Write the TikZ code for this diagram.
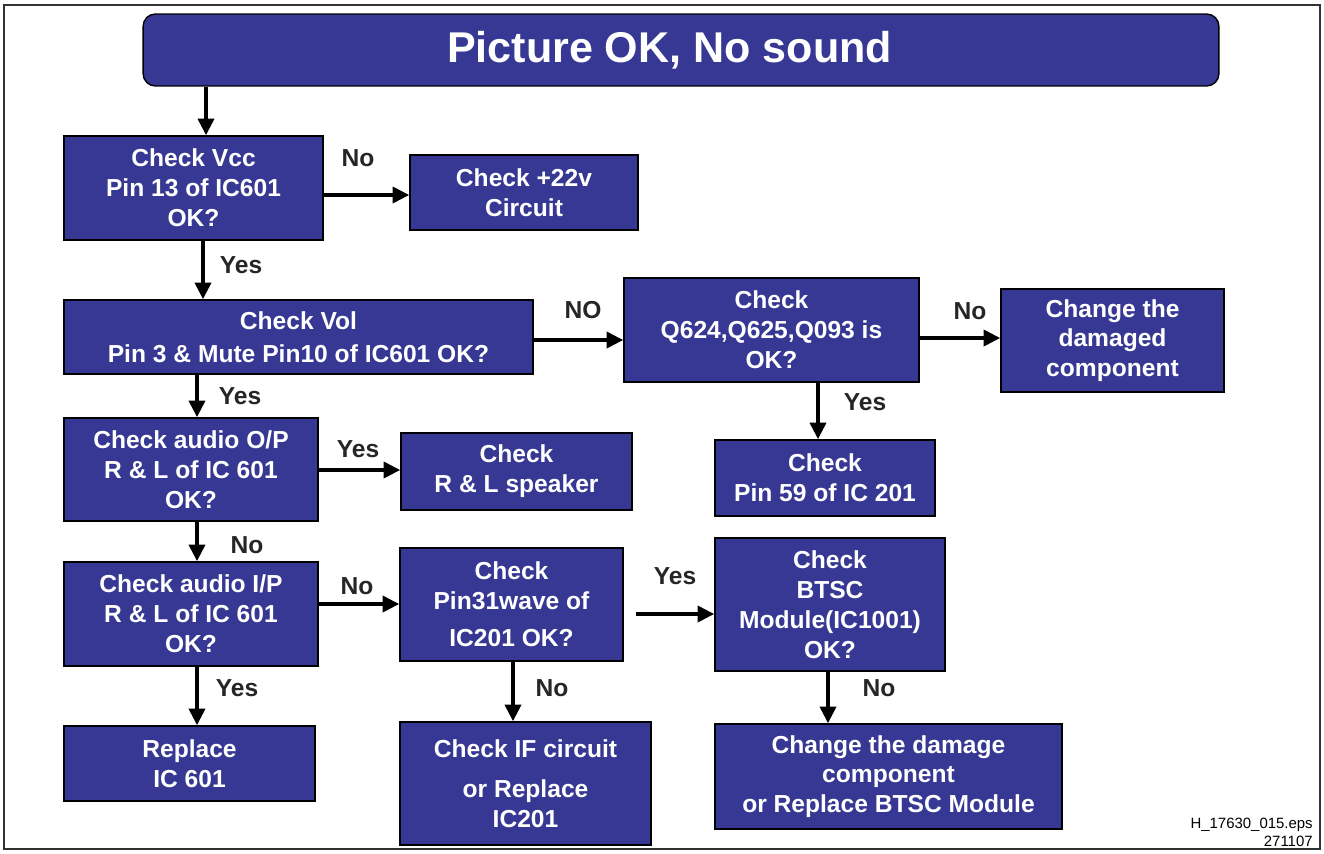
\documentclass[tikz,border=0pt]{standalone}
\usepackage{fontspec}
\setmainfont{Liberation Sans}
\usepackage{xcolor}
\usepackage{tikz}
\usetikzlibrary{arrows.meta,positioning,calc}
\definecolor{boxblue}{RGB}{54,56,147}

\begin{document}
\begin{tikzpicture}[x=0.02cm, y=-0.02cm,
  box/.style={draw=black, line width=0.8pt, fill=boxblue, text=white,
    font=\fontsize{14}{17}\selectfont\bfseries, align=center, inner sep=0pt},
  lbl/.style={font=\fontsize{14}{17}\selectfont\bfseries, text=black!85},
  arr/.style={-{Triangle[length=9.5pt,width=9pt]}, line width=2.3pt}]
\useasboundingbox (0,0) rectangle (1324,853);
\draw[line width=0.8pt, black!80] (4,5) rectangle (1320,849);

\node[box, rounded corners=7pt, minimum width=21.52cm, minimum height=1.44cm,
  font=\fontsize{24.5}{28}\selectfont\bfseries] (title) at (681,50) {Picture OK, No sound\hspace*{0.46cm}};

\node[box, minimum width=5.18cm, minimum height=2.08cm] (vcc) at (193.5,188)
  {Check Vcc\\Pin 13 of IC601\\OK?};
\node[box, minimum width=4.56cm, minimum height=1.5cm] (v22) at (524,192.5)
  {Check +22v\\Circuit};
\node[box, minimum width=9.38cm, minimum height=1.48cm] (vol) at (298.5,337)
  {Check Vol\\[2pt]Pin 3 \& Mute Pin10 of IC601 OK?};
\node[box, minimum width=5.9cm, minimum height=2.08cm] (qchk) at (771.5,330)
  {Check\\Q624,Q625,Q093 is\\OK?};
\node[box, minimum width=4.46cm, minimum height=2.06cm] (dmg) at (1112.5,340.5)
  {Change the\\damaged\\component};
\node[box, minimum width=5.08cm, minimum height=2.06cm] (aop) at (191,469.5)
  {Check audio O/P\\R \& L of IC 601\\OK?};
\node[box, minimum width=4.62cm, minimum height=1.54cm] (spk) at (516.5,471.5)
  {Check\\R \& L speaker};
\node[box, minimum width=4.4cm, minimum height=1.52cm] (p59) at (825,478)
  {Check\\Pin 59 of IC 201};
\node[box, minimum width=5.08cm, minimum height=2.08cm] (aip) at (191,614)
  {Check audio I/P\\R \& L of IC 601\\OK?};
\node[box, minimum width=4.46cm, minimum height=2.26cm] (p31) at (511.5,604.5)
  {Check\\Pin31wave of\\[4pt]IC201 OK?};
\node[box, minimum width=4.6cm, minimum height=2.66cm] (btsc) at (830,604.5)
  {Check\\BTSC\\Module(IC1001)\\OK?};
\node[box, minimum width=5.02cm, minimum height=1.5cm] (rep) at (189.5,763.5)
  {Replace\\IC 601};
\node[box, minimum width=5.02cm, minimum height=2.46cm] (ifc) at (525.5,783.5)
  {Check IF circuit\\[6pt]or Replace\\IC201};
\node[box, minimum width=6.94cm, minimum height=2.1cm] (chg) at (888.5,776.5)
  {Change the damage\\component\\or Replace BTSC Module};

% connectors
\draw[arr] (title.south -| 206,0) -- (vcc.north -| 206,0);
\draw[arr] (vcc.east |- 0,195) -- (v22.west |- 0,195);
\draw[arr] (vcc.south -| 203,0) -- (vol.north -| 203,0);
\draw[arr] (vol.east |- 0,340) -- (qchk.west |- 0,340);
\draw[arr] (qchk.east |- 0,338) -- (dmg.west |- 0,338);
\draw[arr] (qchk.south -| 818,0) -- (p59.north -| 818,0);
\draw[arr] (vol.south -| 197,0) -- (aop.north -| 197,0);
\draw[arr] (aop.east |- 0,470) -- (spk.west |- 0,470);
\draw[arr] (aop.south -| 197,0) -- (aip.north -| 197,0);
\draw[arr] (aip.east |- 0,604) -- (p31.west |- 0,604);
\draw[arr, shorten <=7pt] (p31.east |- 0,614) -- (btsc.west |- 0,614);
\draw[arr] (p31.south -| 513,0) -- (ifc.north -| 513,0);
\draw[arr] (btsc.south -| 828,0) -- (chg.north -| 828,0);
\draw[arr] (aip.south -| 197,0) -- (rep.north -| 197,0);

% labels
\node[lbl] (n1) at (358,158) {No};
\node[lbl] (y1) at (241,265) {Yes};
\node[lbl] (n2) at (583,310) {NO};
\node[lbl] (n3) at (970,311) {No};
\node[lbl] (y2) at (865,402) {Yes};
\node[lbl] (y3) at (240,396) {Yes};
\node[lbl] (y4) at (358,449) {Yes};
\node[lbl] (n4) at (247,545) {No};
\node[lbl] (n5) at (357,586) {No};
\node[lbl] (y5) at (675,576) {Yes};
\node[lbl] (n6) at (552,688) {No};
\node[lbl] (n7) at (879,688) {No};
\node[lbl] (y6) at (237,688) {Yes};

\node[anchor=south east, align=right, inner sep=0pt,
  font=\fontsize{8.5}{10}\selectfont] (foot) at (1313,847) {H\_17630\_015.eps\\271107};
\end{tikzpicture}
\end{document}
